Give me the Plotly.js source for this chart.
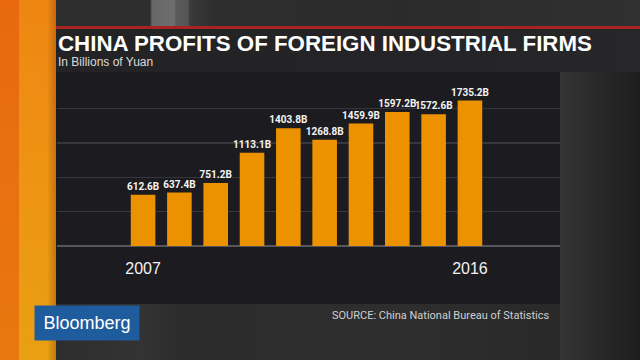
<!DOCTYPE html>
<html>
<head>
<meta charset="utf-8">
<script src="https://cdn.plot.ly/plotly-3.0.1.min.js"></script>
<style>
  html, body { margin: 0; padding: 0; width: 640px; height: 360px; overflow: hidden; background: #262626; }
  #wrap { position: relative; width: 640px; height: 360px; }
  .bg { position: absolute; }
  #chart { position: absolute; left: 0; top: 0; width: 640px; height: 360px; }
</style>
</head>
<body>
<div id="wrap">
  <div class="bg" style="left:0;top:0;width:640px;height:27px;background:linear-gradient(to right,#2c2c2c 0px,#2e2e2e 150px,#666 152px,#6e6e6e 174px,#5c5c5c 176px,#545454 188px,#3a3a3a 190px,#2e2e2e 215px,#2b2b2b 400px,#303030 640px);"></div>
  <div class="bg" style="left:0;top:27px;width:640px;height:333px;background:linear-gradient(to right,#2a2a2a 0px,#333 140px,#2c2c2c 180px,#2e2e2e 400px,#262626 640px);"></div>
  <div class="bg" style="left:53px;top:26px;width:587px;height:3px;background:#a82424;"></div>
  <div class="bg" style="left:53px;top:29px;width:587px;height:43px;background:linear-gradient(to right,#232326,#242427 60%,#27272a);"></div>
  <div class="bg" style="left:560px;top:72px;width:80px;height:288px;background:linear-gradient(to right,#343434,#262626 60%,#1e1e1e);"></div>
  <div class="bg" style="left:56px;top:72px;width:504px;height:232px;background:#1c1c20;"></div>
  <div class="bg" style="left:0;top:0;width:19px;height:360px;background:linear-gradient(to bottom,#e8690f,#e9720f 60%,#e8780f);"></div>
  <div class="bg" style="left:19px;top:0;width:37px;height:360px;background:linear-gradient(to right,rgba(0,0,0,0) 0px,rgba(0,0,0,0) 28px,rgba(120,50,0,0.35) 37px),linear-gradient(to bottom,#ee8612,#ee9414 50%,#e9a012);"></div>
  <div id="chart"></div>
</div>
<script>
  const years = [2007, 2008, 2009, 2010, 2011, 2012, 2013, 2014, 2015, 2016];
  const profits = [612.6, 637.4, 751.2, 1113.1, 1403.8, 1268.8, 1459.9, 1597.2, 1572.6, 1735.2];
  const tickYears = [2007, 2016];
  const tickLabels = ['2007', '2016'];

  const labels = profits.map(v => v.toFixed(1) + 'B');

  const trace = {
    type: 'bar',
    x: years,
    y: profits,
    width: 0.677,
    text: labels,
    textposition: 'outside',
    constraintext: 'none',
    cliponaxis: false,
    textfont: { family: 'Roboto, "Liberation Sans", Arial, sans-serif', size: 10, color: '#f4f4f4', weight: 'bold' },
    marker: { color: '#ec9200', line: { width: 0 } },
    hoverinfo: 'none'
  };

  // plot area: x 57..560, y 80..245.7
  const PX = (px) => (px - 57) / 503;
  const PY = (py) => (245.7 - py) / 165.7;

  const layout = {
    width: 640,
    height: 360,
    margin: { l: 57, r: 80, t: 80, b: 114.3, pad: 0 },
    paper_bgcolor: 'rgba(0,0,0,0)',
    plot_bgcolor: 'rgba(0,0,0,0)',
    showlegend: false,
    font: { family: '"Liberation Sans", Arial, sans-serif', color: '#ffffff' },
    xaxis: {
      type: 'linear',
      range: [2004.63, 2018.48],
      tickvals: tickYears,
      ticktext: tickLabels,
      tickfont: { size: 16, color: '#f2f2f2', family: '"Liberation Sans", Arial, sans-serif' },
      showgrid: false,
      zeroline: false,
      showline: false,
      ticks: '',
      ticklabelstandoff: 11,
      fixedrange: true
    },
    yaxis: {
      range: [0, 1980],
      dtick: 410,
      tick0: 0,
      showticklabels: false,
      gridcolor: '#36363c',
      gridwidth: 1.5,
      zeroline: true,
      zerolinecolor: '#56565c',
      zerolinewidth: 2,
      showline: false,
      ticks: '',
      fixedrange: true
    },
    annotations: [
      {
        xref: 'paper', yref: 'paper', x: PX(56), y: PY(43.5), xanchor: 'left', yanchor: 'middle',
        text: '<b>CHINA PROFITS OF FOREIGN INDUSTRIAL FIRMS</b>', showarrow: false,
        font: { size: 22.3, color: '#ffffff', family: '"Liberation Sans", Arial, sans-serif' }
      },
      {
        xref: 'paper', yref: 'paper', x: PX(56), y: PY(62.5), xanchor: 'left', yanchor: 'middle',
        text: 'In Billions of Yuan', showarrow: false,
        font: { size: 12, color: '#dcdcdc', family: '"Liberation Sans", Arial, sans-serif' }
      },
      {
        xref: 'paper', yref: 'paper', x: PX(551), y: PY(315.5), xanchor: 'right', yanchor: 'middle',
        text: 'SOURCE: China National Bureau of Statistics', showarrow: false,
        font: { size: 11, color: '#d0d0d0', family: 'Roboto, "Liberation Sans", Arial, sans-serif' }
      },
      {
        xref: 'paper', yref: 'paper', x: PX(34.3), y: PY(322.3), xanchor: 'left', yanchor: 'middle',
        text: 'Bloomberg', showarrow: false,
        width: 100, height: 30, borderpad: 2, bgcolor: '#1f5c9e', align: 'center',
        font: { size: 18, color: '#ffffff', family: '"Liberation Sans", Arial, sans-serif' }
      }
    ]
  };

  Plotly.newPlot('chart', [trace], layout, { displayModeBar: false, staticPlot: true });
</script>
</body>
</html>
